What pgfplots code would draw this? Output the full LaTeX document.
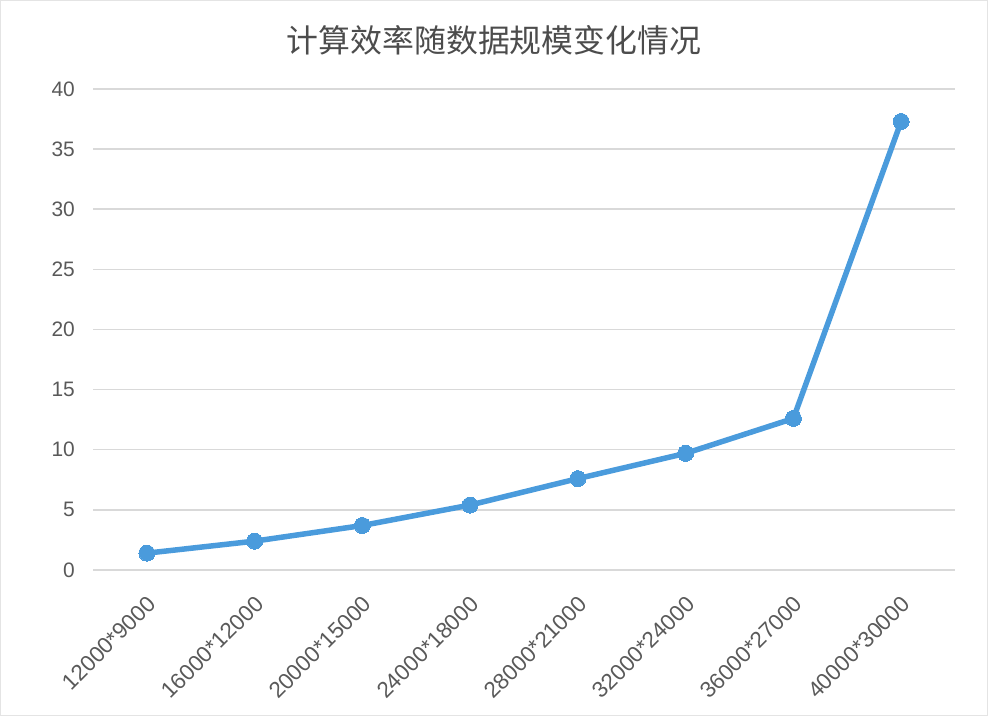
\documentclass[border=0pt]{standalone}
\usepackage{pgfplots}
\pgfplotsset{compat=1.18}
\usepackage{fontspec}
\setmainfont{Liberation Sans}
\newfontfamily\cjk{Noto Sans CJK SC}
\definecolor{linec}{HTML}{4A9BDC}
\definecolor{gridc}{HTML}{D9D9D9}
\definecolor{textc}{HTML}{595959}
\begin{document}
\begin{tikzpicture}[x=1bp,y=1bp]
\path[use as bounding box] (0,0) rectangle (988,716);
\draw[draw=gridc!70, line width=1bp] (0.5,0.5) rectangle (987.5,715.5);
\node[text=textc!85!black, font={\cjk\fontsize{32}{36}\selectfont}] at (494,676) {计算效率随数据规模变化情况};
\begin{axis}[
  at={(93bp,146bp)}, anchor=south west,
  scale only axis, width=862bp, height=481bp,
  xmin=-0.5, xmax=7.5, ymin=0, ymax=40,
  axis line style={draw=none},
  ytick={0,5,...,40},
  ymajorgrids, grid style={draw=gridc, line width=1.5bp},
  major tick length=0pt,
  xtick={0,...,7},
  xticklabels={12000*9000,16000*12000,20000*15000,24000*18000,28000*21000,32000*24000,36000*27000,40000*30000},
  /pgf/number format/assume math mode=true,
  tick label style={text=textc, font=\fontsize{21}{24}\selectfont},
  yticklabel style={anchor=east, inner sep=0pt, xshift=-18bp},
  xticklabel style={inner sep=0pt, xshift=5bp, yshift=-30bp, rotate=45, anchor=east, font=\fontsize{22.5}{24}\selectfont},
  clip=false,
]
\addplot[color=linec, line width=5.5bp, mark=*, mark size=8bp, mark options={fill=linec, draw=linec, line width=0pt}]
  coordinates {(0,1.4) (1,2.4) (2,3.7) (3,5.4) (4,7.6) (5,9.7) (6,12.6) (7,37.3)};
\end{axis}
\end{tikzpicture}
\end{document}
